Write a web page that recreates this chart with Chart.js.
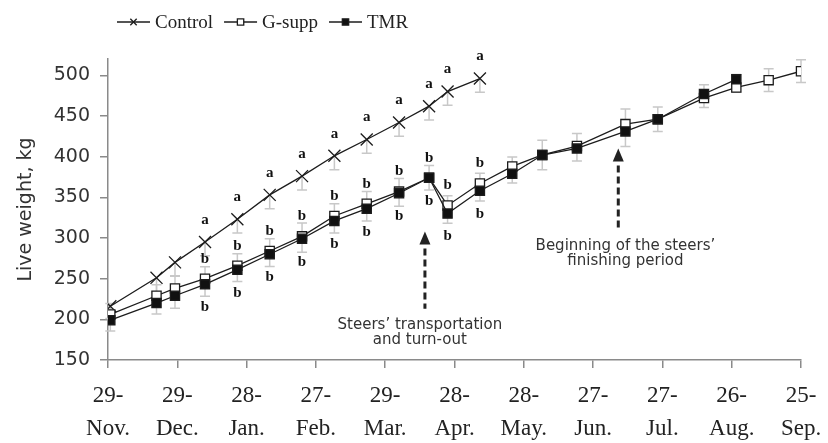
<!DOCTYPE html>
<html>
<head>
<meta charset="utf-8">
<script src="https://cdn.jsdelivr.net/npm/chart.js@4.4.1/dist/chart.umd.min.js"></script>
<style>
    html, body { margin: 0; padding: 0; background: #fff; }
    #wrap { width: 828px; height: 443px; }
</style>
</head>
<body>
<div id="wrap"><canvas id="weightChart" width="828" height="443"></canvas></div>
<script>
// Weighing days, counted from 29 Nov
const weighDays = [1, 21, 29, 42, 56, 70, 84, 98, 112, 126, 139, 147, 161, 175, 188, 203, 224, 238, 258, 272, 286, 300];

// Live weight, kg
const controlWeights = [216, 251, 270, 295, 323, 353, 376, 401, 421, 442, 462, 480, 496];
const gsuppWeights = [206, 229, 238, 250, 266, 284, 302, 327, 342, 357, 374, 340, 367, 388, 402, 413, 440, 446, 472, 485, 494, 505];
const tmrWeights = [199, 220, 229, 243, 261, 280, 299, 321, 336, 355, 374, 330, 358, 379, 402, 410, 431, 446, 477, 495];

// Half length of the grey error bars, kg
const controlErr = [15, 17, 17, 17, 17, 17, 17, 17, 17, 17, 17, 17, 17];
const groupErr = [17, 18, 20, 18, 17, 17, 18, 18, 18, 17, 15, 17, 17, 16, 18, 17, 23, 15, 14, 11, 14, 14];

// Significance letters
const controlSig = [null, null, null, 'a', 'a', 'a', 'a', 'a', 'a', 'a', 'a', 'a', 'a'];
const gsuppSig = [null, null, null, 'b', 'b', 'b', 'b', 'b', 'b', 'b', 'b', 'b', 'b'];
const tmrSig = [null, null, null, 'b', 'b', 'b', 'b', 'b', 'b', 'b', 'b', 'b', 'b'];

// Axes
const xTickDays = [0, 30, 60, 90, 120, 150, 180, 210, 240, 270, 300];
const xTickLabels = [
    ['29-', 'Nov.'], ['29-', 'Dec.'], ['28-', 'Jan.'], ['27-', 'Feb.'], ['29-', 'Mar.'], ['28-', 'Apr.'],
    ['28-', 'May.'], ['27-', 'Jun.'], ['27-', 'Jul.'], ['26-', 'Aug.'], ['25-', 'Sep.']
];
const yTickValues = [150, 200, 250, 300, 350, 400, 450, 500];

// Arrow notes
const noteDays = [137.2, 220.9];
const noteTop = [308, 410];
const noteBottom = [213, 310];
const noteTextDays = [135, 224];
const noteLines = [
    ['Steers\u2019 transportation', 'and turn-out'],
    ['Beginning of the steers\u2019', 'finishing period']
];

const lineColor = '#1c1c1c';
const axisColor = '#8a8a8a';

function toPoints(values) {
    return values.map((v, i) => ({ x: weighDays[i], y: v }));
}

// Grey error bars, behind the lines
const errorBars = {
    id: 'errorBars',
    beforeDatasetsDraw(chart) {
        const { ctx, scales: { x, y } } = chart;
        const cap = 5;
        ctx.save();
        ctx.strokeStyle = '#c8c8c8';
        ctx.lineWidth = 1.5;
        function bar(px, y1, y2) {
            ctx.beginPath();
            ctx.moveTo(px, y1);
            ctx.lineTo(px, y2);
            ctx.moveTo(px - cap, y2);
            ctx.lineTo(px + cap, y2);
            ctx.stroke();
        }
        controlWeights.forEach((w, i) => {
            const px = x.getPixelForValue(weighDays[i]);
            bar(px, y.getPixelForValue(w), y.getPixelForValue(w - controlErr[i]));
        });
        gsuppWeights.forEach((w, i) => {
            const px = x.getPixelForValue(weighDays[i]);
            const mid = i < tmrWeights.length ? (w + tmrWeights[i]) / 2 : w;
            const c = y.getPixelForValue(mid);
            bar(px, c, y.getPixelForValue(mid + groupErr[i]));
            bar(px, c, y.getPixelForValue(mid - groupErr[i]));
        });
        ctx.restore();
    }
};

// Letters, arrows and notes
const annotations = {
    id: 'annotations',
    afterDatasetsDraw(chart) {
        const { ctx, scales: { x, y } } = chart;
        ctx.save();
        ctx.fillStyle = '#111';
        ctx.font = 'bold 15px "Liberation Serif"';
        ctx.textAlign = 'center';
        ctx.textBaseline = 'middle';
        const letters = [[0, controlSig, -22], [1, gsuppSig, -20], [2, tmrSig, 23]];
        letters.forEach(([idx, sig, dy]) => {
            const pts = chart.getDatasetMeta(idx).data;
            sig.forEach((s, i) => {
                if (s && pts[i]) ctx.fillText(s, pts[i].x, pts[i].y + dy);
            });
        });

        noteDays.forEach((d, i) => {
            const px = x.getPixelForValue(d);
            const top = y.getPixelForValue(noteTop[i]);
            const bottom = y.getPixelForValue(noteBottom[i]);
            ctx.fillStyle = '#222';
            ctx.beginPath();
            ctx.moveTo(px, top);
            ctx.lineTo(px - 5.5, top + 13);
            ctx.lineTo(px + 5.5, top + 13);
            ctx.closePath();
            ctx.fill();
            ctx.strokeStyle = '#222';
            ctx.lineWidth = 3;
            ctx.setLineDash([7, 4]);
            ctx.beginPath();
            ctx.moveTo(px, top + 17);
            ctx.lineTo(px, bottom);
            ctx.stroke();
            ctx.setLineDash([]);

            ctx.fillStyle = '#333';
            ctx.font = '15px "DejaVu Sans"';
            const tx = x.getPixelForValue(noteTextDays[i]);
            noteLines[i].forEach((line, k) => {
                ctx.fillText(line, tx, bottom + 16 + k * 15);
            });
        });
        ctx.restore();
    }
};

// Legend across the top left
const topLegend = {
    id: 'topLegend',
    afterDraw(chart) {
        const { ctx } = chart;
        let cx = 117;
        const cy = 22;
        ctx.save();
        ctx.font = '19px "Liberation Serif"';
        ctx.textBaseline = 'middle';
        chart.data.datasets.forEach(ds => {
            ctx.strokeStyle = lineColor;
            ctx.lineWidth = 1.3;
            ctx.beginPath();
            ctx.moveTo(cx, cy);
            ctx.lineTo(cx + 33, cy);
            ctx.stroke();
            ctx.fillStyle = ds.pointBackgroundColor;
            Chart.helpers.drawPoint(ctx, {
                pointStyle: ds.pointStyle, radius: 4.5, rotation: 0, borderWidth: 1.3
            }, cx + 16.5, cy);
            cx += 38;
            ctx.fillStyle = '#222';
            ctx.fillText(ds.label, cx, cy + 1);
            cx += ctx.measureText(ds.label).width + 11;
        });
        ctx.restore();
    }
};

const ctx = document.getElementById('weightChart').getContext('2d');

new Chart(ctx, {
    type: 'line',
    data: {
        datasets: [
            {
                label: 'Control',
                data: toPoints(controlWeights),
                borderColor: lineColor,
                borderWidth: 1.3,
                pointStyle: 'crossRot',
                pointRadius: 8.5,
                pointBorderWidth: 1.3,
                pointBorderColor: lineColor,
                pointBackgroundColor: '#fff',
                order: 2
            },
            {
                label: 'G-supp',
                data: toPoints(gsuppWeights),
                borderColor: lineColor,
                borderWidth: 1.3,
                pointStyle: 'rect',
                pointRadius: 6.5,
                pointBorderWidth: 1.3,
                pointBorderColor: lineColor,
                pointBackgroundColor: '#fff',
                order: 1
            },
            {
                label: 'TMR',
                data: toPoints(tmrWeights),
                borderColor: lineColor,
                borderWidth: 1.3,
                pointStyle: 'rect',
                pointRadius: 6.5,
                pointBorderWidth: 1.3,
                pointBorderColor: lineColor,
                pointBackgroundColor: '#111',
                order: 0
            }
        ]
    },
    options: {
        responsive: false,
        animation: false,
        layout: { padding: { top: 59, right: 27, left: 0, bottom: 0 } },
        plugins: {
            legend: { display: false },
            tooltip: { enabled: false }
        },
        scales: {
            x: {
                type: 'linear',
                min: 0,
                max: 300,
                afterBuildTicks: scale => { scale.ticks = xTickDays.map(v => ({ value: v })); },
                afterFit: scale => {
                    scale.height = 83;
                    scale.paddingLeft = 0;
                    scale.paddingRight = 0;
                },
                border: { display: true, color: axisColor, width: 1.5 },
                grid: { drawOnChartArea: false, drawTicks: true, tickLength: 8, color: axisColor, lineWidth: 1.5 },
                ticks: {
                    autoSkip: false,
                    maxRotation: 0,
                    minRotation: 0,
                    padding: 12,
                    color: '#222',
                    font: { family: 'Liberation Serif', size: 23, lineHeight: 1.43 },
                    callback: (value, index) => xTickLabels[index]
                }
            },
            y: {
                min: 150,
                max: 520,
                afterBuildTicks: scale => { scale.ticks = yTickValues.map(v => ({ value: v })); },
                afterFit: scale => { scale.width = 108; },
                border: { display: true, color: axisColor, width: 1.5 },
                grid: { drawOnChartArea: false, drawTicks: true, tickLength: 8, color: axisColor, lineWidth: 1.5 },
                title: {
                    display: true,
                    text: 'Live weight, kg',
                    color: '#333',
                    font: { family: 'DejaVu Sans', size: 19 },
                    padding: { top: 15, bottom: 0 }
                },
                ticks: {
                    padding: 10,
                    color: '#333',
                    font: { family: 'DejaVu Sans', size: 19 }
                }
            }
        }
    },
    plugins: [errorBars, annotations, topLegend]
});
</script>
</body>
</html>
